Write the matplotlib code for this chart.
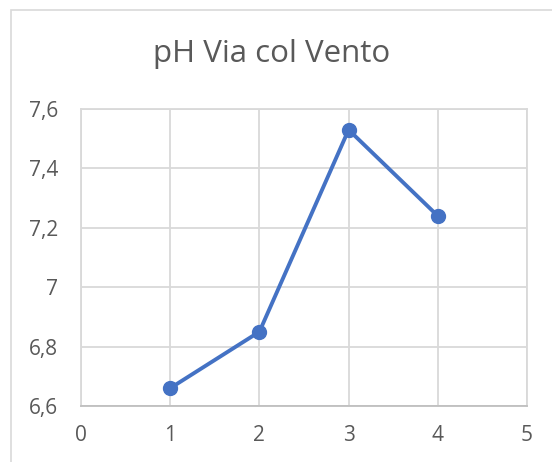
import matplotlib
matplotlib.use('Agg')
from matplotlib import pyplot as plt
from matplotlib.patches import Rectangle
from matplotlib.ticker import FuncFormatter

x_vals = [1, 2, 3, 4]
ph_vals = [6.66, 6.85, 7.53, 7.24]
x_ticks = [0, 1, 2, 3, 4, 5]
y_ticks = [6.6, 6.8, 7.0, 7.2, 7.4, 7.6]
title = 'pH Via col Vento'

blue = '#4472C4'
grid_col = '#D9D9D9'
txt_col = '#595959'

plt.rcParams['font.family'] = ['Open Sans', 'DejaVu Sans']

fig = plt.figure(figsize=(5.52, 4.62), dpi=100)
# chart border like Excel
fig.patches.append(Rectangle((11 / 552, -0.01), 1.0, 1 - 10 / 462 + 0.01, transform=fig.transFigure,
                             fill=False, edgecolor=grid_col, linewidth=1.2))

ax = fig.add_axes([81 / 552, 56 / 462, 446 / 552, 297 / 462])
ax.plot(x_vals, ph_vals, color=blue, linewidth=2.8, marker='o', markersize=10, zorder=3)

ax.set_xlim(0, 5)
ax.set_ylim(6.6, 7.6)
ax.set_xticks(x_ticks)
ax.set_yticks(y_ticks)

def fmt(v, pos):
	s = ('%.1f' % v).rstrip('0').rstrip('.')
	return s.replace('.', ',')

ax.yaxis.set_major_formatter(FuncFormatter(fmt))
ax.grid(True, color=grid_col, linewidth=1.3)
ax.set_axisbelow(True)
for s in ax.spines.values():
	s.set_color(grid_col)
	s.set_linewidth(1.3)
ax.spines['bottom'].set_color('#BFBFBF')
ax.tick_params(length=0, labelsize=15, colors=txt_col)
ax.tick_params(axis='x', pad=14)
ax.tick_params(axis='y', pad=16.5)

fig.text(272 / 552, 1 - 62 / 462, title, ha='center', va='baseline', fontsize=22.5, color=txt_col)

fig.savefig('out.png', dpi=100)
